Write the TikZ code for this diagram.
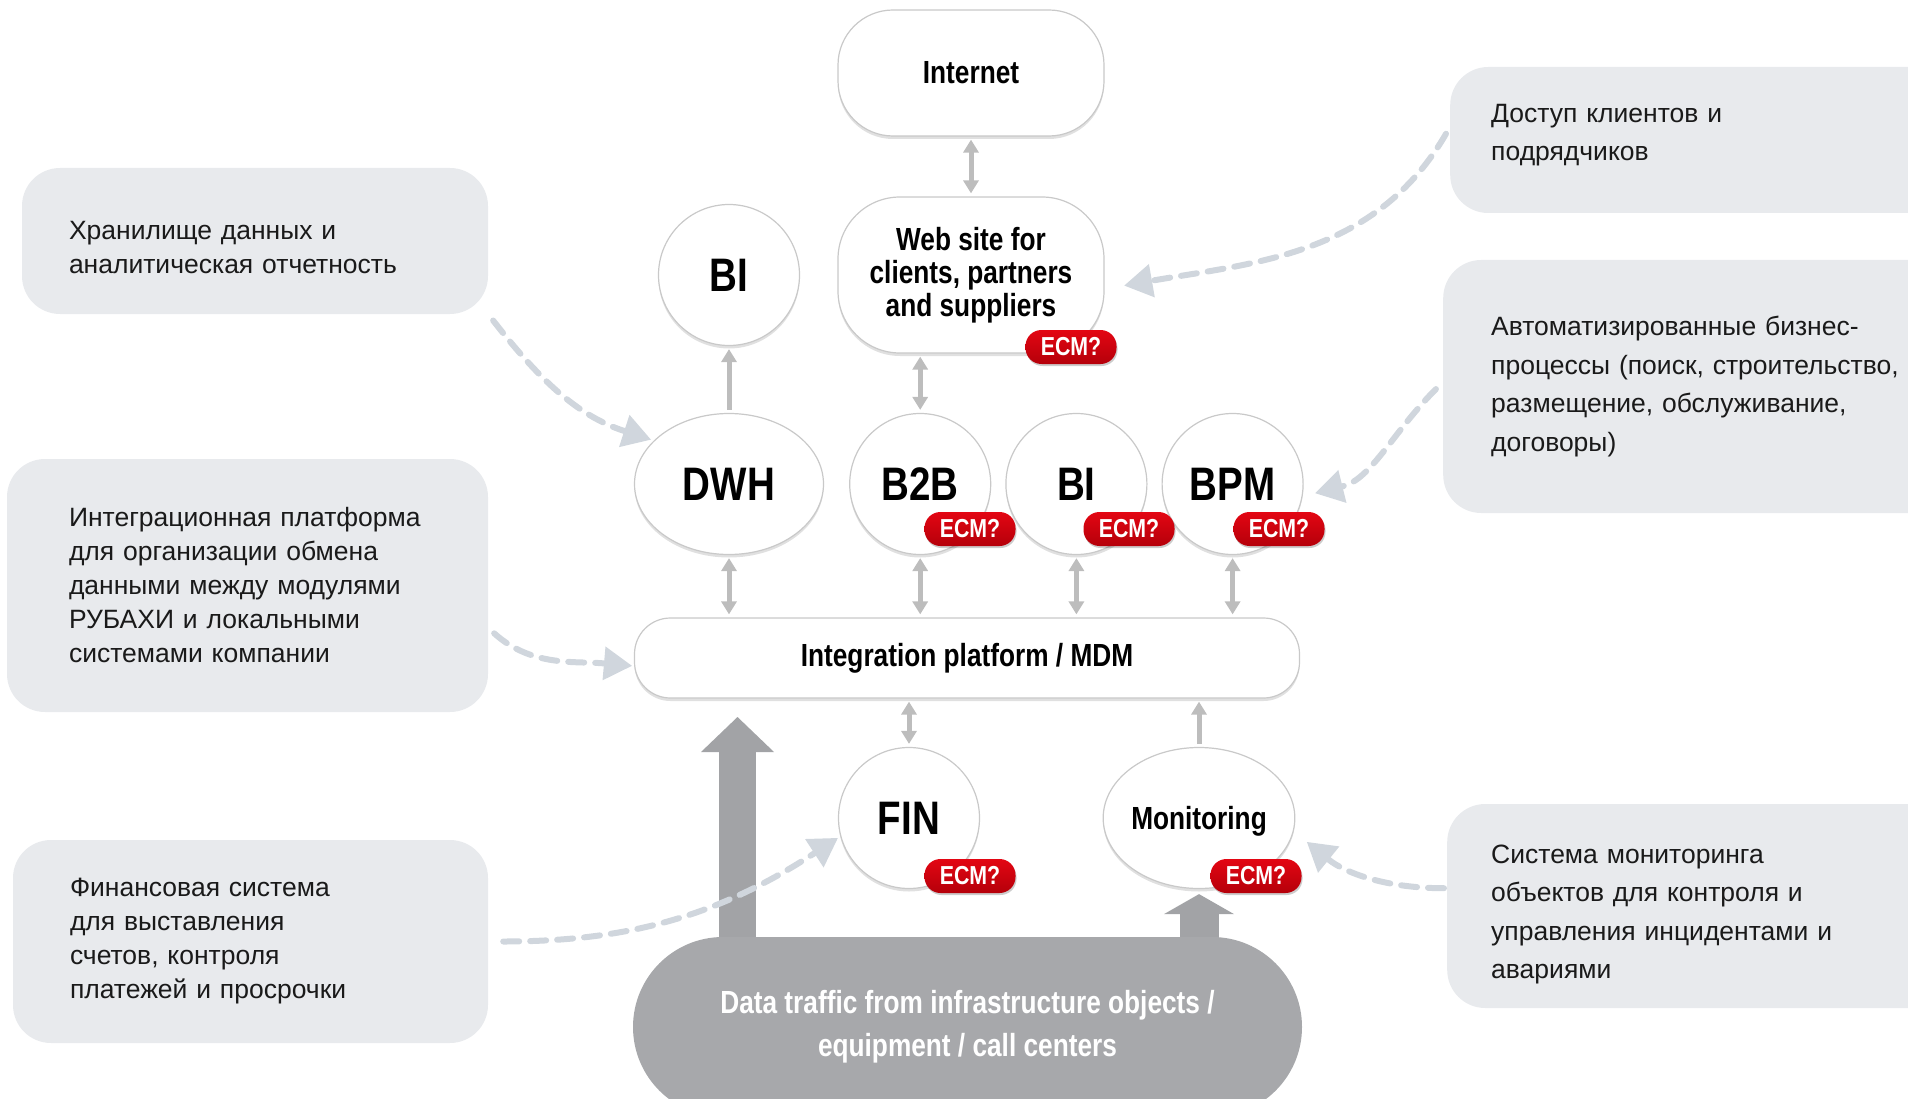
\documentclass[tikz,border=0pt]{standalone}
\usepackage{fontspec}
\setmainfont{Liberation Sans}
\newfontfamily\narrowsans[FakeStretch=0.82]{Liberation Sans}
\usetikzlibrary{arrows.meta, positioning, shapes, shadows, backgrounds}

\definecolor{notefill}{HTML}{E8EAED}
\definecolor{edgegray}{HTML}{C9C9C9}
\definecolor{linkgray}{HTML}{BDBDBD}
\definecolor{hintgray}{HTML}{D0D6DD}
\definecolor{flowgray}{HTML}{A2A3A6}
\definecolor{trafficgray}{HTML}{A7A8AB}
\definecolor{ecmtop}{HTML}{E30613}
\definecolor{ecmbottom}{HTML}{B5000A}
\definecolor{inktext}{HTML}{1A1A1A}

\begin{document}
\begin{tikzpicture}[x=1pt, y=-1pt,
    % Define node styles
    module/.style={ellipse, draw=edgegray, line width=1.2pt, fill=white,
                   minimum width=141pt, minimum height=141pt, inner sep=0pt,
                   font=\narrowsans\bfseries\fontsize{47}{47}\selectfont,
                   drop shadow={shadow xshift=0pt, shadow yshift=-3pt, opacity=0.12, fill=black}},
    pill/.style={rectangle, draw=edgegray, line width=1.2pt, fill=white, align=center,
                 inner sep=0pt, font=\narrowsans\bfseries\fontsize{32}{33}\selectfont,
                 drop shadow={shadow xshift=0pt, shadow yshift=-3pt, opacity=0.12, fill=black}},
    traffic/.style={rectangle, rounded corners=90pt, fill=trafficgray, text=white, align=center,
                    minimum width=669pt, minimum height=180pt,
                    font=\narrowsans\bfseries\fontsize{32}{43}\selectfont},
    note/.style={rectangle, rounded corners=38pt, fill=notefill, align=left, text=inktext,
                 inner xsep=47pt, font=\fontsize{26.5}{34}\selectfont},
    ecm/.style={rectangle, rounded corners=16pt, minimum width=91pt, minimum height=34pt,
                inner sep=0pt, top color=ecmtop, bottom color=ecmbottom, text=white,
                font=\narrowsans\bfseries\fontsize{26}{26}\selectfont,
                drop shadow={shadow xshift=1pt, shadow yshift=-2pt, opacity=0.2, fill=black}},
    link/.style={draw=linkgray, line width=5pt, shorten <=3pt, shorten >=3pt,
                 >={Triangle[length=13pt,width=15pt]}},
    hint/.style={draw=hintgray, line width=6pt, dash pattern=on 16pt off 11pt, line cap=round,
                 -{Triangle[length=28pt,width=34pt,line width=0pt]}},
    flow/.style={draw=flowgray, line width=37pt, -{Triangle[length=35pt,width=73pt,line width=0pt]}}
]
    \useasboundingbox (0,0) rectangle (1908,1099);
    \clip (0,0) rectangle (1908,1099);

    % Side notes
    \node[note, text width=372pt, minimum height=146pt] (storenote) at (255,241)
        {\rule{0pt}{31pt}Хранилище данных и\\аналитическая отчетность};
    \node[note, text width=357pt, inner xsep=62pt, minimum height=253pt] (integnote) at (247.5,585.5)
        {Интеграционная платформа\\для организации обмена\\данными между модулями\\РУБАХИ и локальными\\системами компании};
    \node[note, text width=361pt, inner xsep=57pt, minimum height=203pt] (finnote) at (250.5,941.5)
        {Финансовая система\\для выставления\\счетов, контроля\\платежей и просрочки};
    \node[note, anchor=west, text width=420pt, inner xsep=41pt, minimum height=146pt,
          font=\fontsize{26.5}{38.5}\selectfont] (accessnote) at (1450,140)
        {Доступ клиентов и\\подрядчиков\rule[-15pt]{0pt}{15pt}};
    \node[note, anchor=west, text width=420pt, inner xsep=48pt, minimum height=253pt,
          font=\fontsize{26.5}{38.5}\selectfont] (processnote) at (1443,386.5)
        {Автоматизированные бизнес-\\процессы (поиск, строительство,\\размещение, обслуживание,\\договоры)};
    \node[note, anchor=west, text width=420pt, inner xsep=44pt, minimum height=204pt,
          font=\fontsize{26.5}{38.5}\selectfont] (monnote) at (1447,906)
        {\rule{0pt}{35pt}Система мониторинга\\объектов для контроля и\\управления инцидентами и\\авариями};

    % Create nodes
    \node[pill, minimum width=266pt, minimum height=126pt, rounded corners=55pt] (internet) at (971,73) {Internet};
    \node[pill, minimum width=266pt, minimum height=156pt, rounded corners=62pt] (web) at (971,275)
        {Web site for\\clients, partners\\and suppliers};
    \node[module] (bitop) at (729,275) {BI};
    \node[module, minimum width=189pt] (dwh) at (729,484) {DWH};
    \node[module, right=25pt of dwh] (b2b) {B2B};
    \node[module, right=14pt of b2b] (bimid) {BI};
    \node[module, right=14pt of bimid] (bpm) {BPM};
    \node[pill, minimum width=665pt, minimum height=80pt, rounded corners=36pt] (integ) at (967,658)
        {Integration platform / MDM};
    \node[module] (fin) at (909,818) {FIN};
    \node[module, minimum width=189pt, text depth=0pt,
          font=\narrowsans\bfseries\fontsize{32}{32}\selectfont] (mon) at (1199,818) {Monitoring};
    \node[traffic] (traffic) at (967.5,1027) {Data traffic from infrastructure objects /\\equipment / call centers};

    % ECM badges
    \node[ecm] (ecmweb) at (1071,347) {ECM?};
    \node[ecm] (ecmb2b) at (970,529) {ECM?};
    \node[ecm] (ecmbi) at (1129,529) {ECM?};
    \node[ecm] (ecmbpm) at (1279,529) {ECM?};
    \node[ecm] (ecmfin) at (970,876) {ECM?};
    \node[ecm] (ecmmon) at (1256,876) {ECM?};

    % Draw arrows between nodes
    \draw[link, <->] (internet) -- (web);
    \draw[link, ->] (dwh) -- (bitop);
    \draw[link, <->] (b2b.north) -- (b2b.north |- web.south);
    \foreach \m in {dwh, b2b, bimid, bpm}
        \draw[link, <->] (\m.south) -- (\m.south |- integ.north);
    \draw[link, <->] (fin.north) -- (fin.north |- integ.south);
    \draw[link, ->] (mon.north) -- (mon.north |- integ.south);

    % Dashed hints from the notes
    \draw[hint, shorten <=8pt, shorten >=20pt] (accessnote.177) to[out=240, in=10] (web.-6);
    \draw[hint, shorten <=8pt, shorten >=3pt] (storenote.south east) to[out=-52, in=162] (dwh.150);
    \draw[hint, shorten <=10pt, shorten >=13pt] (processnote.179) to[out=225, in=14] (bpm.-10);
    \draw[hint, shorten <=8pt, shorten >=2pt] (integnote.-10) to[out=-42, in=175] ([yshift=-8pt]integ.west);
    \draw[hint, shorten <=15pt, shorten >=3pt] (finnote.east) to[out=0, in=213] (fin.195);
    \draw[hint, shorten <=3pt, shorten >=17pt] (monnote.176) to[out=180, in=-39] (mon.-8);

    % Data flow arrows behind the traffic block
    \begin{pgfonlayer}{background}
        \coordinate (flowtip) at (737.5,717);
        \draw[flow] ([yshift=-30pt]flowtip |- traffic.north) -- (flowtip);
        \draw[flow, line width=39pt, -{Triangle[length=20pt,width=70pt,line width=0pt]}, shorten >=5pt]
            ([yshift=-30pt]mon.south |- traffic.north) -- (mon.south);
    \end{pgfonlayer}
\end{tikzpicture}
\end{document}
